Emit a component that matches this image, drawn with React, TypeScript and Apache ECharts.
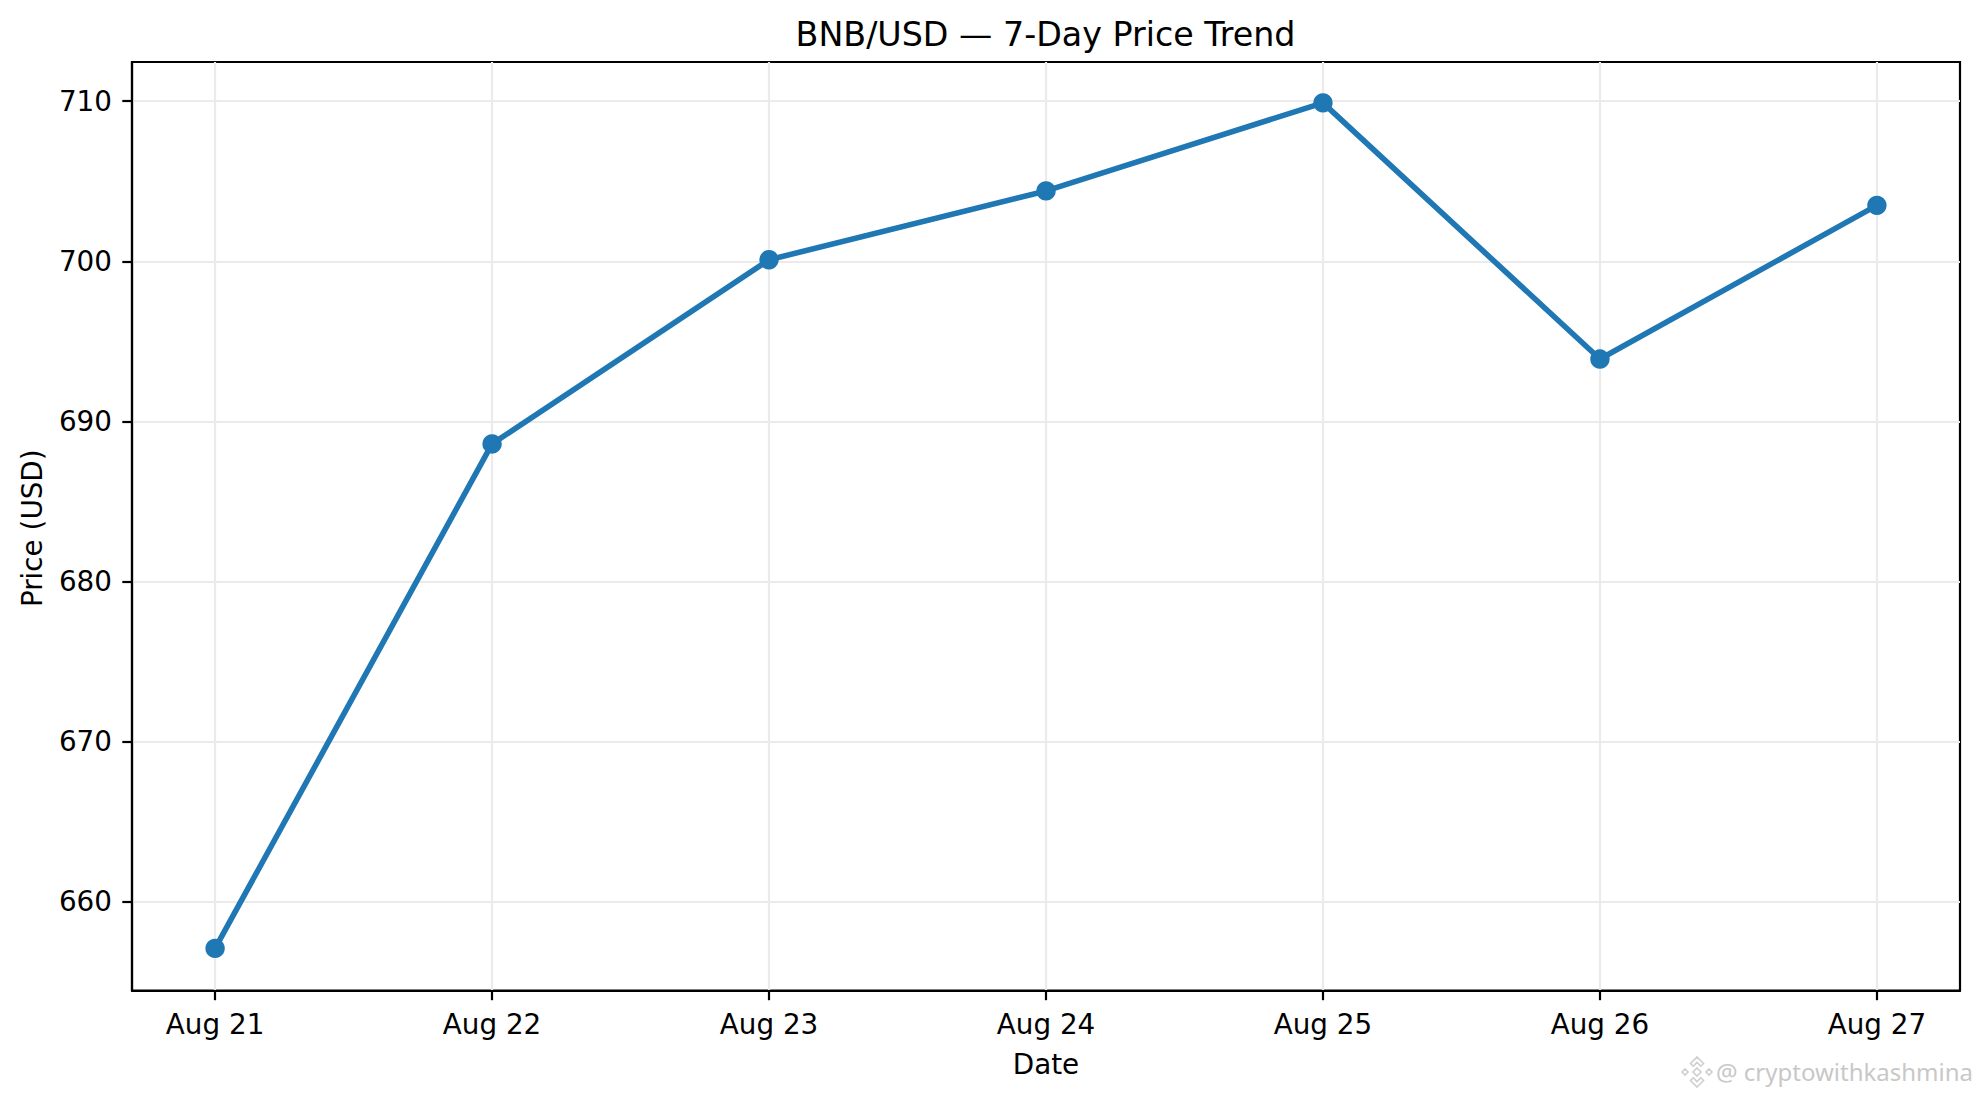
import React, { useEffect, useRef } from "react";
import * as echarts from "echarts";

const dates = ["Aug 21", "Aug 22", "Aug 23", "Aug 24", "Aug 25", "Aug 26", "Aug 27"];
const prices = [657.1, 688.6, 700.1, 704.4, 709.9, 693.9, 703.5];
const yTicks = [660, 670, 680, 690, 700, 710];
const xPositions = [0, 1, 2, 3, 4, 5, 6];
const titleText = "BNB/USD — 7-Day Price Trend";
const xName = "Date";
const yName = "Price (USD)";
const watermark = "@ cryptowithkashmina";

const FONT = "DejaVu Sans";
const LOGO =
  "M0 -15 L6.5 -8.5 L3.8 -5.8 L0 -9.6 L-3.8 -5.8 L-6.5 -8.5 Z M-15 0 L-12 -3 L-9 0 L-12 3 Z M15 0 L12 -3 L9 0 L12 3 Z M0 15 L6.5 8.5 L3.8 5.8 L0 9.6 L-3.8 5.8 L-6.5 8.5 Z M0 -4 L4 0 L0 4 L-4 0 Z";
echarts.graphic.registerShape("bnbLogo", echarts.graphic.extendPath(LOGO, {}));

export default function App() {
  const ref = useRef<HTMLDivElement>(null);
  useEffect(() => {
    document.body.style.margin = "0";
    const chart = echarts.init(ref.current!, null, { renderer: "svg" });
    const gridLine = { show: true, lineStyle: { color: "#ebebeb", width: 2.2 } };
    chart.setOption({
      animation: false,
      backgroundColor: "#ffffff",
      title: {
        text: titleText,
        left: 1040.5,
        top: 29,
        textAlign: "center",
        textVerticalAlign: "middle",
        textStyle: { fontFamily: FONT, fontSize: 33.3, fontWeight: "normal", color: "#000" },
      },
      grid: {
        left: 132,
        top: 62,
        right: 20,
        bottom: 106.5,
        show: true,
        borderColor: "#000",
        borderWidth: 2.2,
        backgroundColor: "transparent",
      },
      xAxis: {
        type: "value",
        min: -0.3,
        max: 6.3,
        name: xName,
        nameLocation: "middle",
        nameGap: 60,
        nameTextStyle: { fontFamily: FONT, fontSize: 27.8, color: "#000" },
        axisLine: { show: true, onZero: false, lineStyle: { color: "#000", width: 2.2 } },
        axisTick: { show: true, length: 9.7, lineStyle: { color: "#000", width: 2.2 }, customValues: xPositions },
        axisLabel: {
          show: true,
          margin: 20,
          fontFamily: FONT,
          fontSize: 27.8,
          color: "#000",
          showMinLabel: true,
          showMaxLabel: true,
          customValues: xPositions,
          formatter: (v: number) => dates[Math.round(v)] ?? "",
        },
        splitLine: gridLine,
      },
      yAxis: {
        type: "value",
        min: 654.47,
        max: 712.45,
        name: yName,
        nameLocation: "middle",
        nameGap: 86,
        nameTextStyle: { fontFamily: FONT, fontSize: 27.8, color: "#000", padding: [0, 4, 0, 0] },
        axisLine: { show: true, onZero: false, lineStyle: { color: "#000", width: 2.2 } },
        axisTick: { show: true, length: 9.7, lineStyle: { color: "#000", width: 2.2 }, customValues: yTicks },
        axisLabel: {
          show: true,
          margin: 20,
          fontFamily: FONT,
          fontSize: 27.8,
          color: "#000",
          padding: [2, 0, 0, 0],
          customValues: yTicks,
          formatter: (v: number) => String(v),
        },
        splitLine: gridLine,
      },
      series: [
        {
          type: "line",
          data: prices.map((p, i) => [xPositions[i], p]),
          symbol: "circle",
          symbolSize: 19.4,
          showSymbol: true,
          lineStyle: { color: "#1f77b4", width: 5.6 },
          itemStyle: { color: "#1f77b4" },
          silent: true,
        },
      ],
      graphic: [
        {
          type: "bnbLogo",
          x: 1697,
          y: 1072,
          style: { fill: "#ffffff", stroke: "#cfcfcf", lineWidth: 1.6 },
        },
        {
          type: "text",
          x: 1716,
          y: 1071,
          style: {
            text: watermark,
            fontFamily: "Noto Sans",
            fontSize: 24,
            fill: "#c8c8c8",
            verticalAlign: "middle",
            align: "left",
          },
        },
      ],
    });
    return () => chart.dispose();
  }, []);
  return <div ref={ref} style={{ width: 1980, height: 1097 }} />;
}
